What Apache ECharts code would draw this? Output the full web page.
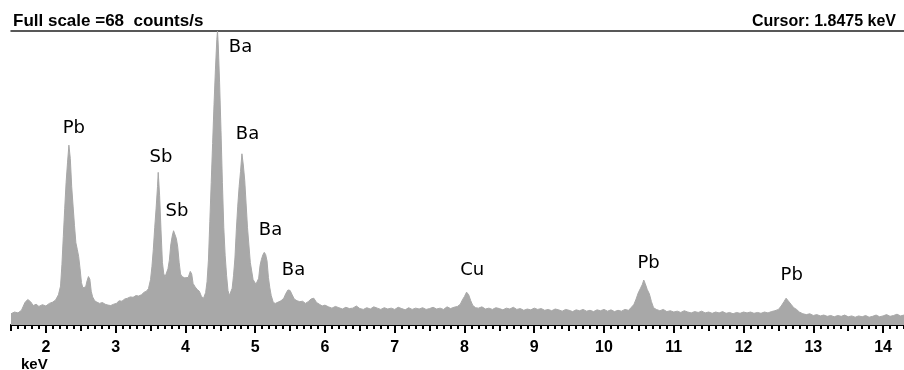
<!DOCTYPE html>
<html>
<head>
<meta charset="utf-8">
<script src="https://cdn.jsdelivr.net/npm/echarts@6/dist/echarts.min.js"></script>
<style>
  html, body { margin: 0; padding: 0; background: #fff; }
  #chart { width: 904px; height: 370px; }
</style>
</head>
<body>
<div id="chart"></div>
<script>
// energy (keV) and count rate (counts/s)
var energy = [
  1.50, 1.55, 1.60, 1.65, 1.70, 1.74, 1.78, 1.82, 1.86, 1.90, 1.95, 2.00, 2.05, 2.10, 2.14, 2.18,
  2.21, 2.23, 2.25, 2.27, 2.29, 2.31, 2.33, 2.35, 2.37, 2.39, 2.41, 2.43, 2.45, 2.47, 2.49, 2.51,
  2.53, 2.55, 2.57, 2.59, 2.61, 2.63, 2.65, 2.67, 2.70, 2.73, 2.77, 2.81, 2.85, 2.89, 2.93, 2.97,
  3.01, 3.05, 3.09, 3.13, 3.17, 3.21, 3.25, 3.29, 3.33, 3.37, 3.41, 3.44, 3.47, 3.50, 3.52, 3.54,
  3.56, 3.58, 3.60, 3.61, 3.63, 3.65, 3.67, 3.69, 3.71, 3.73, 3.75, 3.77, 3.79, 3.81, 3.83, 3.85,
  3.87, 3.89, 3.91, 3.93, 3.95, 3.97, 3.99, 4.01, 4.04, 4.07, 4.09, 4.11, 4.14, 4.17, 4.20, 4.23,
  4.26, 4.29, 4.31, 4.33, 4.35, 4.37, 4.39, 4.41, 4.43, 4.45, 4.46, 4.47, 4.49, 4.51, 4.53, 4.55,
  4.57, 4.59, 4.61, 4.63, 4.65, 4.67, 4.69, 4.71, 4.73, 4.75, 4.77, 4.79, 4.81, 4.83, 4.85, 4.87,
  4.89, 4.91, 4.93, 4.95, 4.97, 4.99, 5.01, 5.03, 5.05, 5.07, 5.09, 5.11, 5.13, 5.15, 5.17, 5.19,
  5.21, 5.23, 5.26, 5.29, 5.33, 5.37, 5.41, 5.44, 5.47, 5.50, 5.53, 5.56, 5.60, 5.64, 5.68, 5.72,
  5.76, 5.80, 5.84, 5.88, 5.92, 5.96, 6.00, 6.05, 6.10, 6.15, 6.20, 6.25, 6.30, 6.35, 6.40, 6.45,
  6.50, 6.55, 6.60, 6.65, 6.70, 6.75, 6.80, 6.85, 6.90, 6.95, 7.00, 7.05, 7.10, 7.15, 7.20, 7.25,
  7.30, 7.35, 7.40, 7.45, 7.50, 7.55, 7.60, 7.65, 7.70, 7.75, 7.80, 7.85, 7.90, 7.94, 7.97, 8.00,
  8.03, 8.06, 8.09, 8.12, 8.16, 8.20, 8.25, 8.30, 8.35, 8.40, 8.45, 8.50, 8.55, 8.60, 8.65, 8.70,
  8.75, 8.80, 8.85, 8.90, 8.95, 9.00, 9.05, 9.10, 9.15, 9.20, 9.25, 9.30, 9.35, 9.40, 9.45, 9.50,
  9.55, 9.60, 9.65, 9.70, 9.75, 9.80, 9.85, 9.90, 9.95, 10.00, 10.05, 10.10, 10.15, 10.20, 10.25, 10.30,
  10.35, 10.40, 10.43, 10.46, 10.49, 10.52, 10.55, 10.57, 10.59, 10.62, 10.65, 10.68, 10.71, 10.75, 10.80, 10.85,
  10.90, 10.95, 11.00, 11.05, 11.10, 11.15, 11.20, 11.25, 11.30, 11.35, 11.40, 11.45, 11.50, 11.55, 11.60, 11.65,
  11.70, 11.75, 11.80, 11.85, 11.90, 11.95, 12.00, 12.05, 12.10, 12.15, 12.20, 12.25, 12.30, 12.35, 12.40, 12.45,
  12.50, 12.54, 12.58, 12.61, 12.64, 12.68, 12.72, 12.76, 12.80, 12.85, 12.90, 12.95, 13.00, 13.05, 13.10, 13.15,
  13.20, 13.25, 13.30, 13.35, 13.40, 13.45, 13.50, 13.55, 13.60, 13.65, 13.70, 13.75, 13.80, 13.85, 13.90, 13.95,
  14.00, 14.05, 14.10, 14.15, 14.20, 14.25, 14.30
];
var counts = [
  2.6, 3.0, 2.8, 3.4, 5.2, 5.9, 5.4, 4.5, 4.8, 4.3, 4.7, 4.4, 5.0, 5.3, 5.8, 7.0,
  9.0, 14.0, 20.5, 27.0, 33.0, 37.5, 41.6, 38.5, 32.0, 27.5, 23.0, 19.0, 17.5, 15.8, 13.0, 9.8,
  8.6, 8.4, 8.8, 10.2, 11.2, 10.6, 7.8, 6.5, 5.6, 5.3, 5.0, 5.2, 4.8, 4.6, 4.5, 4.8,
  5.0, 5.6, 5.5, 6.0, 6.2, 6.5, 6.4, 6.8, 6.7, 7.0, 7.6, 7.8, 8.4, 10.5, 13.5, 17.5,
  22.5, 27.0, 32.0, 35.3, 30.0, 22.0, 14.5, 11.8, 11.2, 11.6, 13.0, 15.0, 18.5, 20.5, 21.8, 21.5,
  20.0, 18.0, 14.5, 11.8, 11.2, 10.8, 10.9, 10.5, 11.0, 12.4, 11.8, 9.6, 8.8, 8.2, 7.8, 6.6,
  6.2, 7.5, 10.0, 15.0, 24.0, 33.0, 42.0, 51.0, 59.0, 66.0, 68.0, 65.0, 56.0, 45.0, 33.0, 22.5,
  16.0, 11.5, 8.0, 6.8, 7.0, 8.5, 11.5, 15.5, 22.0, 27.5, 32.0, 35.5, 39.6, 37.0, 33.5, 28.0,
  22.5, 18.5, 14.5, 12.5, 10.5, 10.0, 9.4, 9.2, 10.8, 13.8, 15.2, 16.2, 16.8, 16.3, 14.8, 11.0,
  8.6, 6.8, 5.2, 5.0, 5.3, 5.6, 6.2, 7.3, 8.1, 8.0, 7.0, 6.0, 5.6, 5.4, 5.5, 5.0,
  5.4, 6.0, 6.2, 5.2, 4.8, 4.4, 4.6, 4.2, 3.9, 4.3, 4.0, 3.7, 4.1, 3.8, 3.9, 4.4,
  3.8, 3.6, 4.0, 3.7, 4.2, 3.9, 3.6, 4.0, 3.7, 3.9, 3.6, 4.1, 3.8, 3.5, 4.0, 3.6,
  3.9, 3.7, 4.0, 3.6, 3.8, 4.1, 3.7, 3.9, 3.6, 4.2, 3.8, 4.1, 4.3, 4.8, 5.8, 6.6,
  7.6, 7.0, 5.6, 4.5, 4.0, 3.9, 4.2, 3.7, 3.9, 3.6, 4.0, 3.8, 3.5, 3.9, 3.7, 4.1,
  3.6, 3.8, 3.4, 3.7, 3.5, 3.9, 3.6, 3.8, 3.4, 3.6, 3.3, 3.7, 3.5, 3.2, 3.6, 3.4,
  3.1, 3.5, 3.3, 3.6, 3.2, 3.4, 3.1, 3.5, 3.3, 3.6, 3.2, 3.5, 3.1, 3.4, 3.2, 3.6,
  3.4, 4.2, 4.8, 6.0, 7.4, 8.4, 9.4, 10.4, 9.6, 8.2, 7.2, 5.4, 4.0, 3.6, 3.3, 3.6,
  3.1, 3.3, 3.0, 3.2, 2.9, 3.3, 3.0, 2.8, 3.1, 2.9, 3.2, 2.8, 3.0, 2.7, 3.0, 2.8,
  3.1, 2.7, 2.9, 2.6, 2.9, 2.7, 3.0, 2.8, 3.0, 2.7, 2.9, 2.7, 3.0, 2.8, 3.1, 3.3,
  3.6, 4.4, 5.4, 6.2, 5.6, 4.8, 4.0, 3.6, 3.0, 2.6, 2.4, 2.6, 2.2, 2.4, 2.1, 2.3,
  2.0, 2.2, 1.9, 2.2, 2.0, 2.3, 1.9, 2.1, 1.8, 2.1, 1.9, 2.2, 1.8, 2.0, 2.3, 1.9,
  2.1, 2.4, 2.0, 2.2, 2.5, 2.1, 2.3
];

// element labels: name, energy and height where the text sits
var peakNames  = ['Pb', 'Sb', 'Sb', 'Ba', 'Ba', 'Ba', 'Ba', 'Cu', 'Pb', 'Pb'];
var peakEnergy = [2.40, 3.65, 3.88, 4.79, 4.89, 5.22, 5.55, 8.11, 10.64, 12.69];
var peakLabelY = [45.4, 38.7, 26.3, 64.3, 44.0, 21.9, 12.7, 12.7, 14.3, 11.4];

var tickLabels = [2, 3, 4, 5, 6, 7, 8, 9, 10, 11, 12, 13, 14];
var fullScale = 68;
var cursorKeV = '1.8475';

var xMin = 1.5, xMax = 14.3;

var halfTicks = [];
for (var h = 1.5; h <= 14.3; h += 0.5) halfTicks.push(+h.toFixed(1));
var minorTicks = [];
for (var m = 15; m <= 143; m++) minorTicks.push(m / 10);

var spectrum = energy.map(function (e, i) { return [e, counts[i]]; });
var labelPoints = peakNames.map(function (n, i) { return { name: n, value: [peakEnergy[i], peakLabelY[i]] }; });

var chart = echarts.init(document.getElementById('chart'));

var hiddenAxis = function (ticks, len) {
  return {
    type: 'value', position: 'bottom', min: xMin, max: xMax,
    axisLine: { show: false },
    axisTick: { show: true, customValues: ticks, length: len, lineStyle: { color: '#000', width: 2 } },
    axisLabel: { show: false },
    splitLine: { show: false }
  };
};

chart.setOption({
  animation: false,
  grid: { left: 11, right: 0, top: 31, bottom: 45 },
  xAxis: [
    {
      type: 'value', position: 'bottom', min: xMin, max: xMax,
      axisLine: { show: true, lineStyle: { color: '#000', width: 2 } },
      axisTick: { show: true, customValues: tickLabels, length: 8, lineStyle: { color: '#000', width: 2 } },
      axisLabel: {
        customValues: tickLabels, margin: 15, color: '#000',
        fontFamily: 'Liberation Sans', fontWeight: 'bold', fontSize: 16
      },
      splitLine: { show: false }
    },
    hiddenAxis(halfTicks, 6),
    hiddenAxis(minorTicks, 4),
    {
      type: 'value', position: 'top', min: xMin, max: xMax,
      axisLine: { show: true, lineStyle: { color: '#222', width: 1.5 } },
      axisTick: { show: false }, axisLabel: { show: false }, splitLine: { show: false }
    }
  ],
  yAxis: {
    type: 'value', min: 0, max: fullScale, show: false
  },
  series: [
    {
      type: 'line',
      xAxisIndex: 0,
      data: spectrum,
      showSymbol: false,
      symbol: 'none',
      sampling: null,
      lineStyle: { color: '#a8a8a8', width: 1 },
      areaStyle: { color: '#a8a8a8', opacity: 1 },
      z: 1
    },
    {
      type: 'scatter',
      xAxisIndex: 0,
      data: labelPoints,
      symbolSize: 0,
      itemStyle: { opacity: 1 },
      label: {
        show: true, position: 'inside', formatter: '{b}',
        color: '#000', fontFamily: 'DejaVu Sans', fontSize: 18
      },
      z: 5
    }
  ],
  graphic: [
    {
      type: 'text', left: 13, top: 13,
      style: {
        text: 'Full scale =' + fullScale + '  counts/s',
        font: 'bold 17px "Liberation Sans"', fill: '#000'
      }
    },
    {
      type: 'text', right: 8, top: 14,
      style: {
        text: 'Cursor: ' + cursorKeV + ' keV',
        font: 'bold 16px "Liberation Sans"', fill: '#000'
      }
    },
    {
      type: 'text', left: 21, top: 357,
      style: { text: 'keV', font: 'bold 15px "Liberation Sans"', fill: '#000' }
    }
  ]
});
</script>
</body>
</html>
